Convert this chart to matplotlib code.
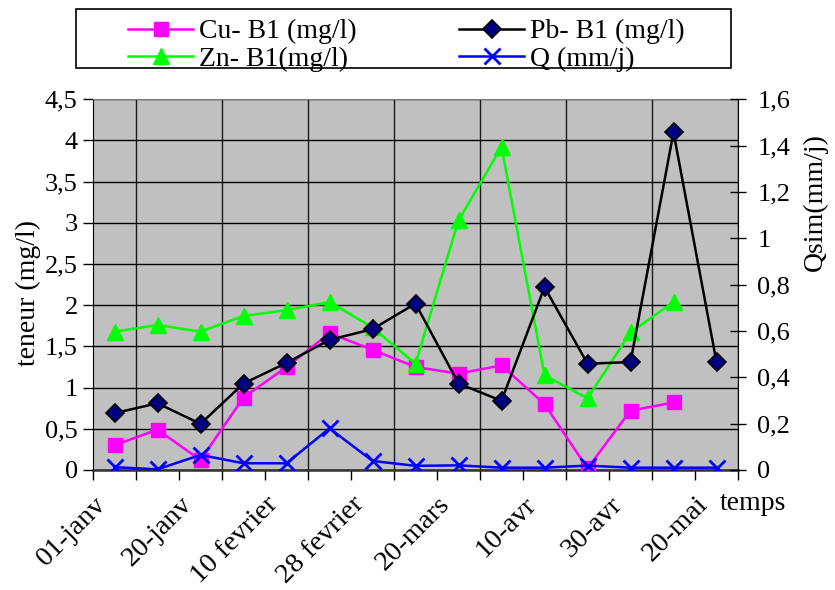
import matplotlib
matplotlib.use('Agg')
import matplotlib.pyplot as plt
import matplotlib.transforms as mtransforms
from matplotlib.patches import Rectangle
from matplotlib.ticker import MultipleLocator, FixedLocator, FuncFormatter
import numpy as np

plt.rcParams['font.family'] = ['Liberation Serif', 'DejaVu Serif']

# --- data -------------------------------------------------------------
date_labels = ['01-janv', '20-janv', '10 fevrier', '28 fevrier',
               '20-mars', '10-avr', '30-avr', '20-mai']
n_periods = 15
cu_b1 = [0.30, 0.49, 0.12, 0.88, 1.25, 1.66, 1.46, 1.25, 1.17, 1.27,
         0.80, 0.02, 0.72, 0.82]
pb_b1 = [0.69, 0.81, 0.56, 1.05, 1.30, 1.58, 1.71, 2.02, 1.05, 0.84,
         2.22, 1.29, 1.31, 4.10, 1.31]
zn_b1 = [1.68, 1.76, 1.68, 1.87, 1.94, 2.04, 1.73, 1.29, 3.03, 3.92,
         1.15, 0.87, 1.67, 2.04]
q_sim = [0.012, 0.003, 0.065, 0.029, 0.029, 0.18, 0.039, 0.018, 0.02,
         0.01, 0.01, 0.019, 0.01, 0.01, 0.01]


def comma(v, pos=None):
    s = ('%.1f' % v).rstrip('0').rstrip('.')
    return s.replace('.', ',')


W, H = 835, 590
fig = plt.figure(figsize=(W / 100, H / 100), dpi=100)
ax = fig.add_axes([93 / W, 1 - 470 / H, 645 / W, 370.7 / H])
ax.set_facecolor('#C0C0C0')

pos = np.arange(n_periods)

# grid
ax.set_xlim(-0.5, n_periods - 0.5)
ax.set_ylim(0, 4.5)
ax.yaxis.set_major_locator(MultipleLocator(0.5))
ax.yaxis.set_major_formatter(FuncFormatter(comma))
ax.xaxis.set_minor_locator(FixedLocator(np.arange(-0.5, n_periods, 1.0)))
ax.xaxis.set_major_locator(FixedLocator(np.arange(-0.5, n_periods - 1, 2.0)))
ax.set_xticklabels(date_labels)
ax.grid(axis='y', which='major', color='black', lw=1.0)
ax.grid(axis='x', which='minor', color='#1a1a1a', lw=1.0)
ax.set_axisbelow(True)

ax.tick_params(axis='y', direction='out', length=7, width=1, pad=4,
               labelsize=19, colors='black')
ax.tick_params(axis='x', which='both', direction='out', length=7, width=1)
ax.tick_params(axis='x', which='major', labelsize=20.5, pad=15)
for lab in ax.get_xticklabels():
    lab.set_rotation(45)
    lab.set_ha('right')
    lab.set_va('center')
    lab.set_rotation_mode('anchor')
    lab.set_transform(lab.get_transform() +
                      mtransforms.ScaledTranslation(9 / 100, 0, fig.dpi_scale_trans))

ax.spines['top'].set_color('#808080')
ax.spines['left'].set_color('black')
ax.spines['bottom'].set_color('#303030')
ax.spines['bottom'].set_linewidth(1.8)
ax.spines['right'].set_visible(False)

l_cu, = ax.plot(pos[:len(cu_b1)], cu_b1, color='#FF00FF', lw=1.8,
                marker='s', ms=9.5, mec='#FF00FF', mfc='#FF00FF',
                label='Cu- B1 (mg/l)', zorder=3)
l_pb, = ax.plot(pos[:len(pb_b1)], pb_b1, color='black', lw=1.8,
                marker='D', ms=9.5, mec='black', mfc='#000080', mew=1.2,
                label='Pb- B1 (mg/l)', zorder=4)
l_zn, = ax.plot(pos[:len(zn_b1)], zn_b1, color='#00FF00', lw=1.8,
                marker='^', ms=11.5, mec='#00FF00', mfc='#00FF00',
                label='Zn- B1(mg/l)', zorder=3)

ax2 = ax.twinx()
ax2.set_ylim(0, 1.6)
ax2.yaxis.set_major_locator(MultipleLocator(0.2))
ax2.yaxis.set_major_formatter(FuncFormatter(comma))
ax2.tick_params(axis='y', direction='inout', length=12, width=1, pad=8,
                labelsize=19, colors='black')
for side in ['top', 'left', 'bottom']:
    ax2.spines[side].set_visible(False)
ax2.spines['right'].set_color('black')
l_q, = ax2.plot(pos[:len(q_sim)], q_sim, color='#0000FF', lw=1.8,
                marker='x', ms=11, mew=2, mec='#0000FF',
                label='Q (mm/j)', zorder=5)

# axis titles
fig.text(28 / W, 1 - 293 / H, 'teneur (mg/l)', rotation=90, ha='center',
         va='center', fontsize=20)
fig.text(815 / W, 1 - 202 / H, 'Qsim(mm/j)', rotation=90, ha='center',
         va='center', fontsize=20)
fig.text(720 / W, 1 - 503 / H, 'temps', ha='left', va='center', fontsize=20)

# legend: framed box with two columns
fig.patches.append(Rectangle((76 / W, 1 - 68 / H), 655 / W, 59.3 / H,
                             transform=fig.transFigure, fill=False,
                             ec='black', lw=1.2))
leg_kw = dict(frameon=False, fontsize=20, numpoints=1, handlelength=2.35,
              handletextpad=0.2, labelspacing=0.08, borderpad=0,
              borderaxespad=0, loc='upper left')
fig.legend([l_cu, l_zn], [l_cu.get_label(), l_zn.get_label()],
           bbox_to_anchor=(128 / W, 1 - 19 / H), **leg_kw)
fig.legend([l_pb, l_q], [l_pb.get_label(), l_q.get_label()],
           bbox_to_anchor=(459 / W, 1 - 19 / H), **leg_kw)

fig.savefig('out.png', dpi=100)
